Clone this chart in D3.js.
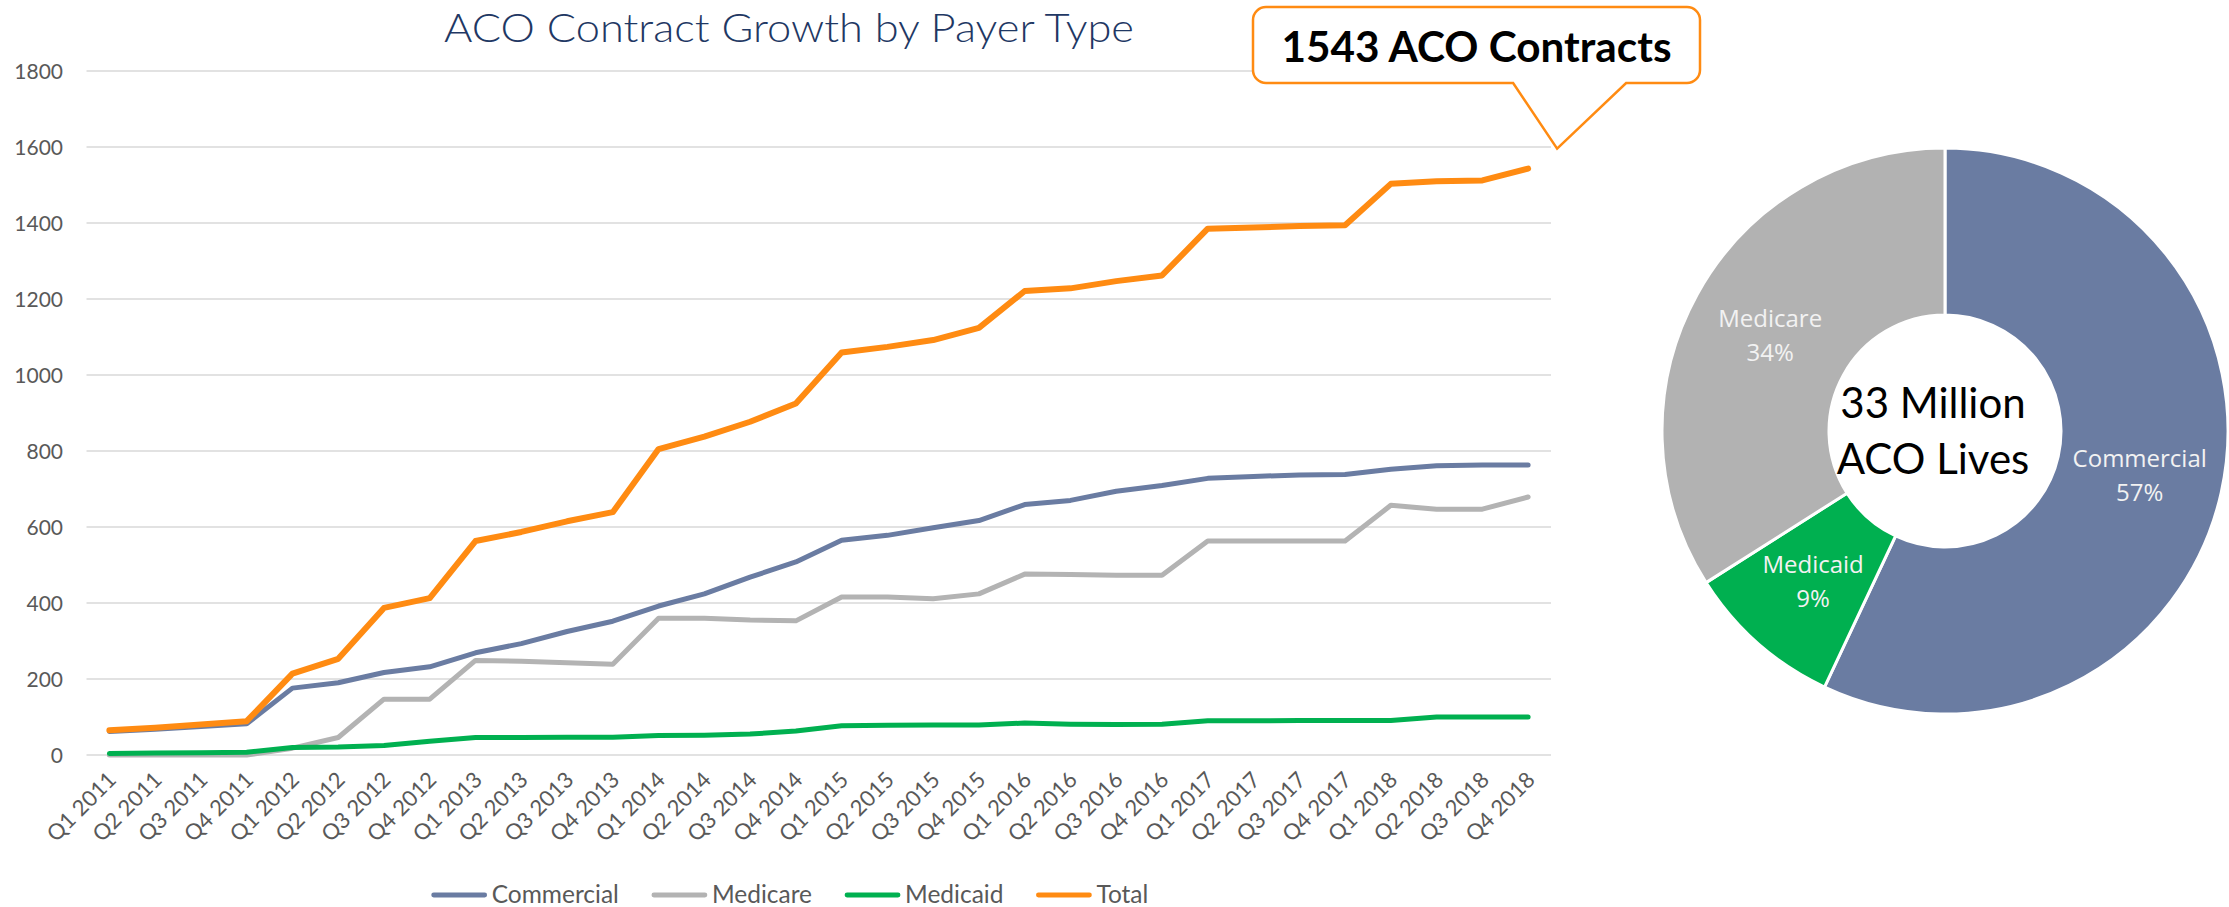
<!DOCTYPE html>
<html>
<head>
<meta charset="utf-8">
<script src="https://cdn.jsdelivr.net/npm/d3@7/dist/d3.min.js"></script>
<style>
  html, body { margin: 0; padding: 0; background: #ffffff; }
  svg { display: block; }
</style>
</head>
<body>
<svg id="chart" width="2229" height="907"></svg>
<script>
// ---------- DATA ----------
const categories = [
  "Q1 2011","Q2 2011","Q3 2011","Q4 2011",
  "Q1 2012","Q2 2012","Q3 2012","Q4 2012",
  "Q1 2013","Q2 2013","Q3 2013","Q4 2013",
  "Q1 2014","Q2 2014","Q3 2014","Q4 2014",
  "Q1 2015","Q2 2015","Q3 2015","Q4 2015",
  "Q1 2016","Q2 2016","Q3 2016","Q4 2016",
  "Q1 2017","Q2 2017","Q3 2017","Q4 2017",
  "Q1 2018","Q2 2018","Q3 2018","Q4 2018"
];
const commercial = [62,68,75,82, 176,190,217,232, 269,293,325,352, 392,424,468,508, 565,578,598,617, 659,670,694,709, 728,733,737,738, 752,761,763,763];
const medicare   = [0,0,0,0, 18,46,147,147, 249,247,243,239, 360,360,355,353, 416,416,411,424, 476,475,473,473, 563,563,563,563, 657,647,647,679];
const medicaid   = [4,5,6,7, 20,21,25,36, 46,46,47,47, 51,52,55,63, 77,78,79,79, 84,81,80,81, 90,90,91,91, 91,100,100,100];
const total      = [65,72,80,89, 214,253,387,413, 563,587,615,639, 805,838,877,925, 1059,1074,1092,1124, 1221,1228,1247,1262, 1385,1388,1392,1394, 1503,1510,1512,1543];
const yTicks = [0,200,400,600,800,1000,1200,1400,1600,1800];
const seriesNames = ["Commercial","Medicare","Medicaid","Total"];
const chartTitle = "ACO Contract Growth by Payer Type";
const calloutText = "1543 ACO Contracts";

const pieLabels = ["Commercial","Medicaid","Medicare"];
const pieValues = [57, 9, 34];
const centerLines = ["33 Million","ACO Lives"];

// ---------- STYLE ----------
const colors = {
  Commercial: "#6a7ca2",
  Medicare: "#b3b3b3",
  Medicaid: "#00b050",
  Total: "#ff8b12"
};
const widths = { Commercial: 5, Medicare: 5, Medicaid: 5, Total: 6 };
const calibriLike = "Lato, 'Open Sans', sans-serif";
const segoeLike = "'Open Sans', 'Noto Sans', sans-serif";

const svg = d3.select("#chart");
svg.append("rect").attr("width", 2229).attr("height", 907).attr("fill", "#fff");

// ---------- SCALES ----------
const plotLeft = 86.5, plotRight = 1551, plotTop = 71, plotBottom = 755;
const x = d3.scalePoint().domain(categories).range([plotLeft, plotRight]).padding(0.5);
const y = d3.scaleLinear().domain([0, 1800]).range([plotBottom, plotTop]);

// gridlines
svg.append("g").selectAll("line").data(yTicks).join("line")
  .attr("x1", plotLeft).attr("x2", plotRight)
  .attr("y1", d => y(d)).attr("y2", d => y(d))
  .attr("stroke", "#d9d9d9").attr("stroke-width", 1.6);

// y axis labels
const yAxis = d3.axisLeft(y).tickValues(yTicks).tickSize(0).tickPadding(0).tickFormat(d3.format("d"));
const yG = svg.append("g").attr("transform", `translate(${63},0)`).call(yAxis);
yG.select(".domain").remove();
yG.selectAll("text")
  .attr("font-family", calibriLike).attr("font-size", 21)
  .attr("fill", "#595959").attr("dy", "0.35em");

// x axis labels
const xAxis = d3.axisBottom(x).tickSize(0).tickPadding(0);
const xG = svg.append("g").attr("transform", `translate(0,${778})`).call(xAxis);
xG.select(".domain").remove();
xG.selectAll("text")
  .attr("font-family", calibriLike).attr("font-size", 22)
  .attr("fill", "#595959")
  .attr("text-anchor", "end")
  .attr("x", 3).attr("y", 0).attr("dy", "0.35em")
  .attr("transform", "rotate(-45)");

// lines
const seriesData = { Commercial: commercial, Medicare: medicare, Medicaid: medicaid, Total: total };
const line = d3.line().x((d, i) => x(categories[i])).y(d => y(d));
seriesNames.forEach(name => {
  svg.append("path")
    .datum(seriesData[name])
    .attr("d", line)
    .attr("fill", "none")
    .attr("stroke", colors[name])
    .attr("stroke-width", widths[name])
    .attr("stroke-linejoin", "round")
    .attr("stroke-linecap", "round");
});

// title
svg.append("text")
  .attr("x", 444).attr("y", 42)
  .attr("font-family", calibriLike).attr("font-weight", 300)
  .attr("font-size", 40).attr("fill", "#1f3864")
  .attr("textLength", 690).attr("lengthAdjust", "spacingAndGlyphs")
  .text(chartTitle);

// legend
const legendG = svg.append("g");
let lx = 0;
const legendItems = [];
seriesNames.forEach(name => {
  const g = legendG.append("g").attr("transform", `translate(${lx},0)`);
  g.append("line").attr("x1", 2).attr("x2", 53).attr("y1", 0).attr("y2", 0)
    .attr("stroke", colors[name]).attr("stroke-width", 4.8).attr("stroke-linecap", "round");
  const t = g.append("text").attr("x", 60).attr("y", 0).attr("dy", "0.33em")
    .attr("font-family", calibriLike).attr("font-size", 24.5).attr("fill", "#595959")
    .text(name);
  const w = t.node().getComputedTextLength();
  lx += 60 + w + 33;
});
const legendWidth = lx - 33;
legendG.attr("transform", `translate(${790 - legendWidth / 2},895)`);

// callout
const lastIdx = categories.length - 1;
const px = x(categories[lastIdx]), py = y(total[lastIdx]);
const tipX = px + 29, tipY = py - 20;
const bx0 = 1253, bx1 = 1700, by0 = 7, by1 = 83, r = 13;
const base0 = tipX - 44, base1 = tipX + 69;
const cp = d3.path();
cp.moveTo(bx0 + r, by0);
cp.lineTo(bx1 - r, by0);
cp.arcTo(bx1, by0, bx1, by0 + r, r);
cp.lineTo(bx1, by1 - r);
cp.arcTo(bx1, by1, bx1 - r, by1, r);
cp.lineTo(base1, by1);
cp.lineTo(tipX, tipY);
cp.lineTo(base0, by1);
cp.lineTo(bx0 + r, by1);
cp.arcTo(bx0, by1, bx0, by1 - r, r);
cp.lineTo(bx0, by0 + r);
cp.arcTo(bx0, by0, bx0 + r, by0, r);
cp.closePath();
svg.append("path").attr("d", cp.toString())
  .attr("fill", "#fff").attr("stroke", "#ff8b12").attr("stroke-width", 2.5)
  .attr("stroke-linejoin", "miter");
svg.append("text")
  .attr("x", (bx0 + bx1) / 2).attr("y", 62)
  .attr("text-anchor", "middle")
  .attr("font-family", calibriLike).attr("font-weight", 700)
  .attr("font-size", 42).attr("fill", "#000")
  .attr("textLength", 390).attr("lengthAdjust", "spacingAndGlyphs")
  .text(calloutText);

// donut
const cx = 1945, cy = 431, outerR = 283, innerR = 116;
const pieColors = { Commercial: colors.Commercial, Medicaid: colors.Medicaid, Medicare: "#b2b2b2" };
const pie = d3.pie().sort(null).value(d => d.value);
const arcs = pie(pieLabels.map((l, i) => ({ label: l, value: pieValues[i] })));
const arc = d3.arc().innerRadius(innerR).outerRadius(outerR);
const donut = svg.append("g").attr("transform", `translate(${cx},${cy})`);
donut.selectAll("path").data(arcs).join("path")
  .attr("d", arc)
  .attr("fill", d => pieColors[d.data.label])
  .attr("stroke", "#fff").attr("stroke-width", 3);
const lab = donut.selectAll("g.lab").data(arcs).join("g").attr("class", "lab")
  .attr("transform", d => `translate(${arc.centroid(d)})`);
lab.append("text").attr("text-anchor", "middle").attr("y", -8)
  .attr("font-family", segoeLike).attr("font-size", 24).attr("fill", "#f2f2f2")
  .text(d => d.data.label);
lab.append("text").attr("text-anchor", "middle").attr("y", 26)
  .attr("font-family", segoeLike).attr("font-size", 24).attr("fill", "#f2f2f2")
  .text(d => d.data.value + "%");

svg.append("text").attr("x", 1933).attr("y", 418).attr("text-anchor", "middle")
  .attr("font-family", calibriLike).attr("font-size", 42).attr("fill", "#000")
  .text(centerLines[0]);
svg.append("text").attr("x", 1933).attr("y", 474).attr("text-anchor", "middle")
  .attr("font-family", calibriLike).attr("font-size", 42).attr("fill", "#000")
  .text(centerLines[1]);
</script>
</body>
</html>
